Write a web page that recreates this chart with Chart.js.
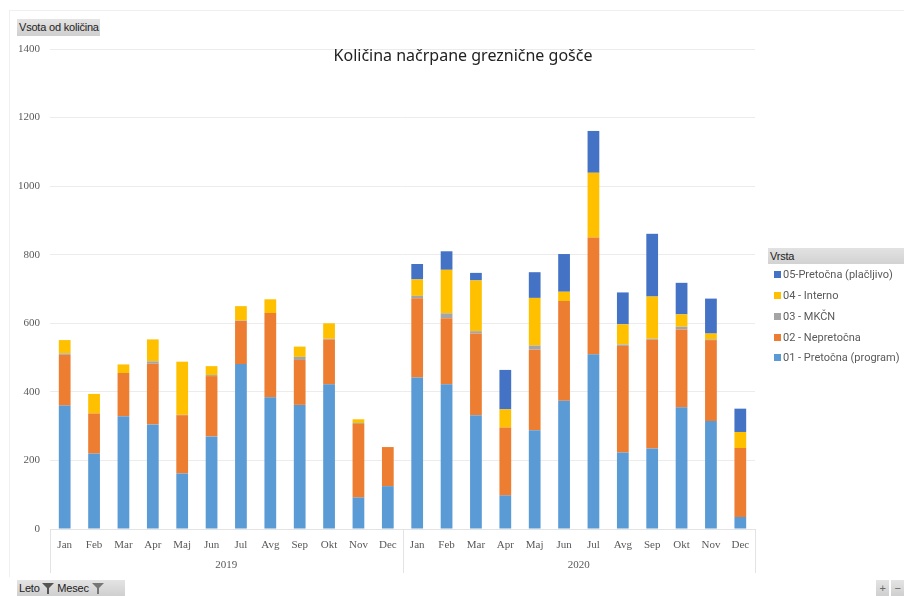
<!DOCTYPE html>
<html>
<head>
<meta charset="utf-8">
<script src="https://cdn.jsdelivr.net/npm/chart.js@4.4.1/dist/chart.umd.min.js"></script>
<style>
    body { margin: 0; background: #fff; font-family: 'Roboto', sans-serif; }
    #wrap { position: relative; width: 904px; height: 596px; overflow: hidden; }
    #frame { position: absolute; left: 9px; top: 10px; width: 900px; height: 566px; border-left: 1px solid #f0f0f0; border-top: 1px solid #f0f0f0; }
    canvas { position: absolute; left: 0; top: 0; }
    .btn { position: absolute; background: linear-gradient(#e4e4e4, #cfcfcf); color: #222; font-family: 'Liberation Sans', sans-serif; font-size: 11px; line-height: 16px; white-space: nowrap; letter-spacing: -0.2px; }
    #title { position: absolute; left: 0; width: 926px; top: 44px; text-align: center; font-family: 'Noto Sans', sans-serif; font-size: 16px; color: #222; }
    #legend { position: absolute; left: 768px; top: 248px; width: 136px; }
    #legend .head { height: 16px; line-height: 16px; padding-left: 2px; background: linear-gradient(#e2e2e2, #d2d2d2); font-size: 11px; color: #222; font-family: 'Liberation Sans', sans-serif; letter-spacing: -0.2px; }
    #legend .item { position: absolute; left: 6px; font-size: 11px; color: #595959; white-space: nowrap; }
    #legend .item i { display: inline-block; width: 7px; height: 7px; margin-right: 2px; vertical-align: 0px; }
    svg { vertical-align: -2px; }
</style>
</head>
<body>
<div id="wrap">
    <div id="frame"></div>
    <canvas id="chart" width="904" height="596"></canvas>
    <div class="btn" style="left:17px; top:19px; width:81px; height:17px; padding-left:2px;">Vsota od količina</div>
    <div id="title">Količina načrpane greznične gošče</div>
    <div id="legend"><div class="head">Vrsta</div></div>
    <div class="btn" style="left:17px; top:580px; width:106px; height:16px; padding-left:2px;">Leto
        <svg width="12" height="11"><polygon points="0,0 12,0 7,5 7,11 5,11 5,5" fill="#555"/></svg> Mesec
        <svg width="12" height="11"><polygon points="0,0 12,0 7,5 7,11 5,11 5,5" fill="#777"/></svg></div>
    <div class="btn" style="left:876px; top:580px; width:13px; height:16px; text-align:center; color:#666;">+</div>
    <div class="btn" style="left:891px; top:580px; width:13px; height:16px; text-align:center; color:#666;">−</div>
</div>
<script>
// kategorije (meseci po letih)
const months = ['Jan', 'Feb', 'Mar', 'Apr', 'Maj', 'Jun', 'Jul', 'Avg', 'Sep', 'Okt', 'Nov', 'Dec'];
const years = ['2019', '2020'];
const yTicks = [0, 200, 400, 600, 800, 1000, 1200, 1400];

// vrednosti po vrstah (2019 Jan..Dec, 2020 Jan..Dec)
const pretocnaProgram = [360, 220, 329, 305, 162, 270, 481, 384, 362, 422, 92, 125, 442, 422, 332, 98, 288, 374, 510, 223, 235, 355, 315, 35];
const nepretocna = [148, 117, 126, 177, 170, 176, 126, 246, 131, 131, 214, 114, 231, 193, 238, 198, 235, 291, 340, 311, 317, 227, 236, 201];
const mkcn = [4, 0, 0, 7, 1, 3, 1, 0, 9, 2, 3, 0, 7, 14, 7, 0, 12, 0, 0, 4, 3, 8, 2, 0];
const interno = [39, 57, 25, 64, 155, 26, 42, 40, 30, 45, 11, 0, 48, 127, 148, 53, 139, 27, 189, 59, 123, 36, 17, 47];
const pretocnaPlacljivo = [0, 0, 0, 0, 0, 0, 0, 0, 0, 0, 0, 0, 45, 54, 22, 115, 75, 110, 122, 93, 183, 92, 102, 68];

const labels = [];
years.forEach(() => months.forEach(m => labels.push(m)));

const series = [
    { label: '01 - Pretočna (program)', data: pretocnaProgram, color: '#5B9BD5' },
    { label: '02 - Nepretočna', data: nepretocna, color: '#ED7D31' },
    { label: '03 - MKČN', data: mkcn, color: '#A5A5A5' },
    { label: '04 - Interno', data: interno, color: '#FFC000' },
    { label: '05-Pretočna (plačljivo)', data: pretocnaPlacljivo, color: '#4472C4' }
];

// legenda (obratni vrstni red, kot v Excelu)
const legendEl = document.getElementById('legend');
const legendY = [20, 41, 62, 83, 103];
series.slice().reverse().forEach((s, i) => {
    const d = document.createElement('div');
    d.className = 'item';
    d.style.top = legendY[i] + 'px';
    d.innerHTML = '<i style="background:' + s.color + '"></i>' + s.label;
    legendEl.appendChild(d);
});

const tickFont = { family: "'Liberation Serif', serif", size: 11 };

// leta pod meseci + ločilne črte
const yearAxis = {
    id: 'yearAxis',
    afterDraw(chart) {
        const ctx = chart.ctx;
        const x = chart.scales.x;
        const step = (x.right - x.left) / labels.length;
        const bottom = chart.chartArea.bottom;
        ctx.save();
        ctx.strokeStyle = '#e3e3e3';
        ctx.lineWidth = 1;
        for (let g = 0; g <= years.length; g++) {
            const px = Math.round(x.left + g * months.length * step) + 0.5;
            ctx.beginPath();
            ctx.moveTo(px, bottom);
            ctx.lineTo(px, bottom + 44);
            ctx.stroke();
        }
        ctx.fillStyle = '#595959';
        ctx.font = '11px ' + tickFont.family;
        ctx.textAlign = 'center';
        ctx.textBaseline = 'middle';
        years.forEach((yr, g) => {
            ctx.fillText(yr, x.left + (g + 0.5) * months.length * step, bottom + 36);
        });
        ctx.restore();
    }
};

new Chart(document.getElementById('chart').getContext('2d'), {
    type: 'bar',
    data: {
        labels: labels,
        datasets: series.map(s => ({
            label: s.label,
            data: s.data,
            backgroundColor: s.color,
            borderWidth: 0,
            barPercentage: 0.4,
            categoryPercentage: 1
        }))
    },
    options: {
        responsive: false,
        animation: false,
        layout: { padding: { left: 10, right: 149, top: 49, bottom: 37 } },
        plugins: { legend: { display: false }, tooltip: { enabled: false } },
        scales: {
            x: {
                stacked: true,
                grid: { display: false, drawTicks: false },
                border: { color: '#e3e3e3' },
                ticks: { color: '#595959', font: tickFont, padding: 10, autoSkip: false, maxRotation: 0 },
                afterFit: s => { s.height = 30; }
            },
            y: {
                stacked: true,
                min: 0,
                max: 1400,
                afterBuildTicks: s => { s.ticks = yTicks.map(v => ({ value: v })); },
                grid: { color: '#ececec', drawTicks: false },
                border: { display: false },
                ticks: { color: '#595959', font: tickFont, padding: 10, callback: v => String(v) },
                afterFit: s => { s.width = 40; }
            }
        }
    },
    plugins: [yearAxis]
});
</script>
</body>
</html>
